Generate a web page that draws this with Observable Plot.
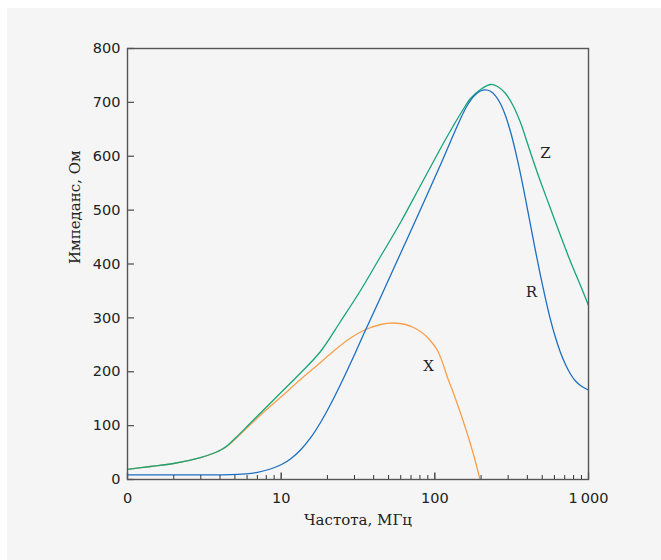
<!DOCTYPE html>
<html>
<head>
<meta charset="utf-8">
<script src="https://cdn.jsdelivr.net/npm/d3@7"></script>
<script src="https://cdn.jsdelivr.net/npm/@observablehq/plot@0.6"></script>
<style>
  html, body { margin: 0; padding: 0; background: #ffffff; }
  #panel { position: absolute; left: 7px; top: 8px; width: 654px; height: 552px; background: #f5f5f5; }
</style>
</head>
<body>
<div id="panel"></div>
<script>
// Z (|Z|) curve
const zFreq = [1, 1.411, 1.992, 2.985, 3.738, 4.151, 4.474, 5.043, 6.316, 7.907, 10.05, 13.36, 18.03, 24.33, 32.83, 44.31, 59.78, 80.67, 98.0, 117.3, 132.3, 151.4, 170.7, 198.3, 230.3, 255.7, 288.4, 320.2, 360.9, 400.9, 438.6, 487.0, 565.6, 657.1, 763.2, 886.8, 1000];
const zVal  = [18.6, 24.1, 29.7, 40.8, 50.1, 56.6, 63.1, 77.0, 104.9, 132.7, 162.4, 197.7, 237.6, 293.3, 350.8, 413.9, 477.0, 545.7, 590.3, 631.1, 657.1, 684.9, 707.2, 723.9, 733.2, 729.5, 716.5, 696.1, 662.6, 623.7, 590.3, 553.1, 503.0, 452.9, 404.6, 360.1, 323.0];
// R curve
const rFreq = [1, 2.985, 4.68, 5.86, 7.01, 8.52, 10.05, 11.50, 13.36, 15.52, 18.03, 20.94, 24.33, 30.45, 34.34, 44.31, 59.78, 80.67, 110.5, 126.5, 140.4, 153.6, 165.6, 181.2, 198.3, 213.6, 230.3, 248.2, 267.5, 288.4, 310.8, 334.9, 360.9, 389.0, 419.2, 451.8, 487.0, 524.9, 565.6, 609.7, 657.1, 708.4, 763.2, 822.9, 886.8, 955.9, 1000];
const rVal  = [8.7, 8.7, 8.9, 10.6, 13.4, 19.5, 27.8, 38.1, 54.8, 77.1, 105.8, 139.2, 176.3, 235.7, 269.1, 337.8, 419.5, 501.2, 588.4, 627.4, 657.1, 681.2, 697.9, 712.8, 721.1, 723.3, 720.6, 712.2, 697.4, 675.1, 645.4, 609.2, 567.4, 521.0, 472.8, 424.5, 378.6, 335.9, 296.9, 263.5, 235.7, 213.5, 195.8, 182.8, 174.5, 168.9, 166.1];
// X curve
const xFreq = [1, 1.411, 1.992, 2.985, 3.738, 4.151, 4.474, 5.043, 6.316, 7.907, 10.05, 13.36, 18.03, 22.57, 28.27, 34.34, 44.31, 53.83, 64.45, 72.63, 80.67, 89.6, 98.0, 104.1, 112.2, 120.9, 130.3, 140.4, 151.4, 163.2, 178.5, 196.8];
const xVal  = [18.6, 24.1, 29.7, 40.8, 50.1, 56.6, 62.2, 75.2, 102.1, 128.1, 154.1, 185.6, 217.2, 241.3, 262.6, 276.6, 287.7, 290.5, 287.7, 282.1, 274.7, 263.6, 250.6, 239.4, 217.2, 189.3, 165.2, 139.2, 112.3, 83.5, 46.4, 0];

const xMajorTicks = [1, 10, 100, 1000];
const xMinorTicks = [2, 3, 4, 5, 6, 7, 8, 9, 20, 30, 40, 50, 60, 70, 80, 90, 200, 300, 400, 500, 600, 700, 800, 900];
const xTickLabels = ["0", "10", "100", "1\u2009000"];
const yTicks = [0, 100, 200, 300, 400, 500, 600, 700, 800];

const curveNames = ["Z", "R", "X"];
const labelFreq = [524, 425, 91];
const labelVal = [605, 347, 211];

const xLabel = "Частота, МГц";
const yLabel = "Импеданс, Ом";

const colors = { Z: "#17a57a", R: "#1c6fc2", X: "#f7a04c" };

const toRows = (fs, vs) => fs.map((f, i) => ({ f, v: vs[i] }));
const zData = toRows(zFreq, zVal);
const rData = toRows(rFreq, rVal);
const xData = toRows(xFreq, xVal);
const labels = curveNames.map((n, i) => ({ n, f: labelFreq[i], v: labelVal[i] }));

const W = 654, H = 552, mL = 120, mR = 73, mT = 40, mB = 81;
const frameW = W - mL - mR, frameH = H - mT - mB;

const chart = Plot.plot({
  width: W,
  height: H,
  marginLeft: mL,
  marginRight: mR,
  marginTop: mT,
  marginBottom: mB,
  style: { background: "transparent", fontFamily: "DejaVu Sans", fontSize: "14.5px", color: "#222" },
  x: { type: "log", domain: [1, 1000] },
  y: { domain: [0, 800] },
  marks: [
    Plot.line(xData, { x: "f", y: "v", stroke: colors.X, strokeWidth: 1.3, curve: "catmull-rom" }),
    Plot.line(zData, { x: "f", y: "v", stroke: colors.Z, strokeWidth: 1.3, curve: "catmull-rom" }),
    Plot.line(rData, { x: "f", y: "v", stroke: colors.R, strokeWidth: 1.3, curve: "catmull-rom" }),
    Plot.tickX(xMinorTicks, { x: d => d, stroke: "#333", strokeWidth: 1, insetTop: frameH - 4 }),
    Plot.tickX(xMajorTicks, { x: d => d, stroke: "#333", strokeWidth: 1.3, insetTop: frameH - 6.5 }),
    Plot.tickY(yTicks, { y: d => d, stroke: "#555", strokeWidth: 1.3, insetRight: frameW - 7 }),
    Plot.frame({ stroke: "#555", strokeWidth: 1.4 }),
    Plot.axisX({ ticks: xMajorTicks, tickSize: 0, tickPadding: 13, tickFormat: d => xTickLabels[xMajorTicks.indexOf(d)], label: null, fill: "#222" }),
    Plot.axisY({ ticks: yTicks, tickSize: 0, tickPadding: 7, label: null, fill: "#222" }),
    Plot.text(labels, { x: "f", y: "v", text: "n", fontFamily: "DejaVu Serif", fontSize: 15, fill: "#222" }),
    Plot.text([xLabel], { text: d => d, frameAnchor: "bottom", dy: 45, fontFamily: "DejaVu Serif", fontSize: 15, fill: "#222" }),
    Plot.text([yLabel], { text: d => d, frameAnchor: "left", dx: -52, rotate: -90, fontFamily: "DejaVu Serif", fontSize: 15, fill: "#222" })
  ]
});

document.getElementById("panel").appendChild(chart);
</script>
</body>
</html>
